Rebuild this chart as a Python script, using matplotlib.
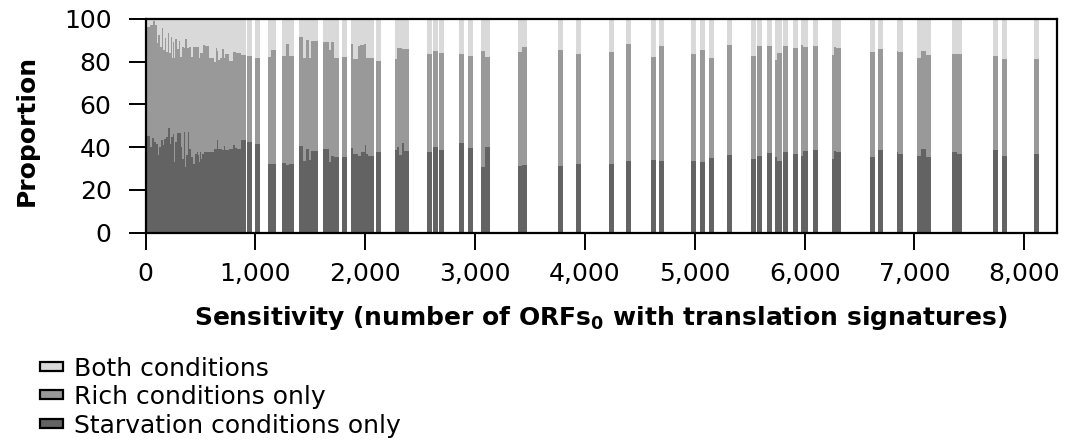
import matplotlib
matplotlib.use("Agg")
import matplotlib.pyplot as plt
from matplotlib.patches import Rectangle

# ---- data: each bar = one sensitivity value (number of ORFs0 with signatures)
sensitivity = [
    0, 40, 58, 67, 76, 86, 95, 104, 113, 122, 131, 140, 149, 158, 168, 177, 186,
    204, 213, 222, 231, 240, 249, 259, 268, 286, 304, 313, 322, 331, 350, 359,
    368, 377, 386, 395, 413, 432, 450, 468, 477, 486, 495, 504, 514, 523, 532,
    541, 577, 623, 641, 650, 659, 677, 696, 714, 723, 759, 796, 814, 823, 832,
    869,
    926, 996, 1114, 1142, 1242, 1279, 1306, 1397, 1430, 1460, 1488, 1506, 1524,
    1615, 1633, 1670, 1688, 1715, 1788, 1870, 1888, 1934, 1952, 1961, 1988,
    1997, 2007, 2025, 2034, 2098, 2270, 2289, 2307, 2334, 2353, 2562, 2617,
    2672, 2854, 2935, 3054, 3091, 3391, 3427, 3754, 3918, 4218, 4374, 4602,
    4675, 4966, 5048, 5130, 5294, 5512, 5567, 5658, 5731, 5749, 5804, 5895,
    5967, 5986, 6077, 6249, 6267, 6286, 6596, 6669, 6841, 6850, 7024, 7060,
    7106, 7343, 7388, 7716, 7798, 8089,
]

starvation_only = [
    45.0, 40.0, 44.3, 44.3, 42.4, 42.4, 41.6, 41.6, 36.2, 40.0, 40.0, 43.2, 43.2,
    40.8, 44.0, 44.0, 44.8, 49.1, 49.1, 41.6, 44.8, 44.8, 46.3, 33.0, 42.4, 46.6,
    46.6, 46.6, 40.0, 34.6, 47.1, 30.7, 36.2, 36.2, 47.1, 39.3, 35.4, 32.2, 36.9,
    37.7, 36.2, 33.0, 37.7, 34.6, 36.9, 36.9, 37.7, 37.7, 37.7, 39.0, 39.0, 43.2,
    39.0, 39.0, 38.5, 40.4, 38.5, 39.3, 40.8, 39.7, 39.7, 39.3, 43.2,
    42.3, 41.3, 32.2, 31.9, 32.6, 31.6, 31.9, 40.4, 33.5, 39.3, 33.8, 38.2, 38.0,
    39.3, 39.0, 33.0, 35.7, 35.4, 35.4, 39.7, 36.9, 35.7, 35.7, 37.9, 37.9,
    40.8, 36.9, 35.8, 35.8, 37.6, 38.5, 40.1, 36.3, 41.8, 38.0, 37.6, 40.1,
    38.5, 41.9, 39.6, 30.7, 40.1, 31.1, 31.5, 31.1, 31.9, 31.9, 33.3, 33.8,
    33.3, 33.3, 32.9, 34.9, 36.3, 34.3, 35.8, 37.1, 35.4, 33.3, 37.6, 36.6,
    35.8, 38.2, 38.5, 34.3, 38.0, 37.6, 35.2, 38.5, 37.6, 36.6, 35.7, 39.0,
    35.2, 37.6, 36.6, 38.5, 35.7, 36.6,
]

rich_only = [
    51.4, 57.2, 52.9, 54.7, 56.6, 54.6, 55.4, 47.0, 56.3, 52.5, 47.0, 43.8, 52.8,
    44.6, 41.4, 47.0, 39.9, 44.2, 34.9, 42.4, 46.9, 36.7, 43.1, 48.5, 48.2, 39.4,
    43.1, 35.7, 42.3, 52.4, 39.1, 59.8, 54.3, 50.0, 39.1, 47.7, 46.9, 54.7, 50.0,
    49.2, 50.8, 48.5, 46.5, 49.6, 47.3, 50.9, 50.1, 49.6, 44.1, 41.0, 47.2, 41.8,
    42.0, 42.5, 47.3, 41.1, 45.1, 41.1, 43.6, 44.7, 44.2, 44.6, 39.9,
    40.3, 40.4, 50.1, 53.5, 50.0, 56.7, 50.7, 51.3, 48.3, 50.8, 48.0, 51.5, 51.5,
    49.9, 50.2, 52.4, 53.3, 46.4, 46.8, 48.6, 44.5, 51.6, 52.2, 50.0, 50.4,
    47.5, 44.9, 46.0, 46.0, 42.7, 42.9, 46.3, 50.1, 44.0, 47.9, 46.0, 44.9,
    45.5, 41.8, 43.0, 54.4, 42.2, 53.4, 55.5, 54.3, 51.8, 52.8, 55.1, 48.4,
    54.0, 50.4, 52.5, 46.9, 51.6, 48.5, 51.5, 50.2, 45.4, 50.7, 49.7, 49.8,
    52.0, 48.7, 48.8, 49.0, 48.9, 48.8, 49.3, 47.4, 47.4, 47.9, 46.0, 46.0,
    47.9, 46.0, 47.0, 44.1, 45.5, 44.6,
]

both_conditions = [
    3.6, 2.8, 2.8, 1.0, 1.0, 3.0, 3.0, 11.4, 7.5, 7.5, 13.0, 13.0, 4.0,
    14.6, 14.6, 9.0, 15.3, 6.7, 16.0, 16.0, 8.3, 18.5, 10.6, 18.5, 9.4, 14.0,
    10.3, 17.7, 17.7, 13.0, 13.8, 9.5, 9.5, 13.8, 13.8, 13.0, 17.7, 13.1, 13.1,
    13.1, 13.0, 18.5, 15.8, 15.8, 15.8, 12.2, 12.2, 12.7, 18.2, 20.0, 13.8, 15.0,
    19.0, 18.5, 14.2, 18.5, 16.4, 19.6, 15.6, 15.6, 16.1, 16.1, 16.9,
    17.4, 18.3, 17.7, 14.6, 17.4, 11.7, 17.4, 8.3, 18.2, 9.9, 18.2, 10.3, 10.5,
    10.8, 10.8, 14.6, 11.0, 18.2, 17.8, 11.7, 18.6, 12.7, 12.1, 12.1, 11.7,
    11.7, 18.2, 18.2, 18.2, 19.7, 18.6, 13.6, 13.6, 14.2, 14.1, 16.4, 15.0,
    16.0, 16.3, 17.4, 14.9, 17.7, 15.5, 13.0, 14.6, 16.3, 15.3, 11.6, 17.8,
    12.7, 16.3, 14.6, 18.2, 12.1, 17.2, 12.7, 12.7, 19.2, 16.0, 12.7, 13.6,
    12.2, 13.1, 12.7, 16.7, 13.1, 13.6, 15.5, 14.1, 15.0, 15.5, 18.3, 15.0,
    16.9, 16.4, 16.4, 17.4, 18.8, 18.8,
]

x_ticks = [0, 1000, 2000, 3000, 4000, 5000, 6000, 7000, 8000]
x_tick_labels = ["0", "1,000", "2,000", "3,000", "4,000", "5,000", "6,000",
                 "7,000", "8,000"]
y_ticks = [0, 20, 40, 60, 80, 100]
legend_labels = ["Both conditions", "Rich conditions only",
                 "Starvation conditions only"]

# ---- style
C_BOTH = "#D9D9D9"
C_RICH = "#999999"
C_STARV = "#636363"
BAR_W = 45
FS = 18

plt.rcParams["font.family"] = ["DejaVu Sans"]
plt.rcParams["mathtext.fontset"] = "dejavusans"

W, H = 1065, 440
fig = plt.figure(figsize=(W / 100, H / 100), dpi=100)
L, R, T, B = 145.6, 1057, 19, 232.5
ax = fig.add_axes([L / W, 1 - B / H, (R - L) / W, (B - T) / H])

for x, s, r, b in zip(sensitivity, starvation_only, rich_only, both_conditions):
    ax.bar(x, s, width=BAR_W, align="edge", color=C_STARV, linewidth=0)
    ax.bar(x, r, bottom=s, width=BAR_W, align="edge", color=C_RICH, linewidth=0)
    ax.bar(x, b, bottom=s + r, width=BAR_W, align="edge", color=C_BOTH, linewidth=0)

ax.set_xlim(0, (R - L) / 0.10983)
ax.set_ylim(0, 100)
ax.set_xticks(x_ticks)
ax.set_xticklabels(x_tick_labels)
ax.set_yticks(y_ticks)
ax.tick_params(axis="both", direction="out", length=12.5, width=1.4,
               labelsize=FS, color="black")
ax.tick_params(axis="x", pad=9)
ax.tick_params(axis="y", pad=12)
for sp in ax.spines.values():
    sp.set_linewidth(1.6)
    sp.set_zorder(5)

fig.text(601 / W, 1 - 304 / H,
         r"Sensitivity (number of ORFs$_\mathbf{0}$ with translation signatures)",
         ha="center", va="top", fontsize=FS, fontweight="bold")
fig.text(26.5 / W, 1 - 130.5 / H, "Proportion", rotation=90,
         ha="center", va="center", fontsize=FS, fontweight="bold")

# ---- legend (below the plot, left)
legend_colors = [C_BOTH, C_RICH, C_STARV]
row_y = [366, 394.5, 423]
for lab, col, yc in zip(legend_labels, legend_colors, row_y):
    fig.add_artist(Rectangle((40 / W, 1 - (yc + 4.5) / H), 23 / W, 9 / H,
                             transform=fig.transFigure, facecolor=col,
                             edgecolor="black", linewidth=1.6))
    fig.text(74 / W, 1 - yc / H, lab, ha="left", va="center_baseline",
             fontsize=FS)

fig.savefig("out.png", dpi=100)
